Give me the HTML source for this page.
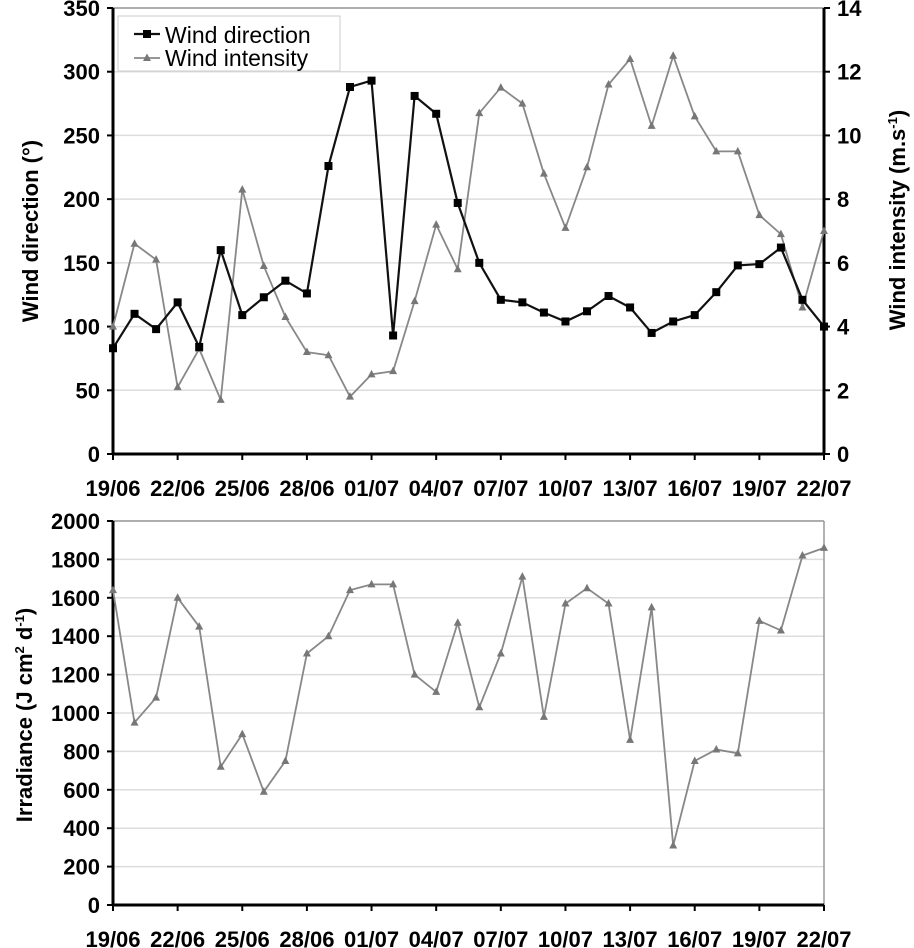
<!DOCTYPE html>
<html><head><meta charset="utf-8"><style>
html,body{margin:0;padding:0;background:#fff;width:914px;height:948px;overflow:hidden}
svg text{font-family:"Liberation Sans",Arial,sans-serif;font-weight:bold;fill:#000}
</style></head><body>
<svg id="s" width="914" height="948" viewBox="0 0 914 948" xmlns="http://www.w3.org/2000/svg">
<text x="0" y="0" font-size="1"> </text>
</svg>
<script>
var s=document.getElementById('s');var h='';
var X0=113,X1=824,dx=(X1-X0)/33;
function X(i){return X0+i*dx;}
var T0=454,T1=8;
function Yd(v){return T0-(v/350)*(T0-T1);}
function Yi(v){return T0-(v/14)*(T0-T1);}
for(var v=50;v<=350;v+=50){h+='<line x1="'+X0+'" x2="'+X1+'" y1="'+Yd(v)+'" y2="'+Yd(v)+'" stroke="#ddd" stroke-width="1.5"/>';}
h+='<line x1="'+X0+'" x2="'+X1+'" y1="'+T1+'" y2="'+T1+'" stroke="#999" stroke-width="1.5"/>';
h+='<line x1="'+X0+'" x2="'+X0+'" y1="'+T1+'" y2="'+T0+'" stroke="#000" stroke-width="3"/>';
h+='<line x1="'+X1+'" x2="'+X1+'" y1="'+T1+'" y2="'+T0+'" stroke="#000" stroke-width="3"/>';
h+='<line x1="'+X0+'" x2="'+X1+'" y1="'+T0+'" y2="'+T0+'" stroke="#000" stroke-width="3"/>';
for(var v=0;v<=350;v+=50){var y=Yd(v);h+='<line x1="'+(X0-6)+'" x2="'+X0+'" y1="'+y+'" y2="'+y+'" stroke="#000" stroke-width="2"/><text x="'+(X0-13)+'" y="'+(y+8)+'" font-size="22" text-anchor="end">'+v+'</text>';}
for(var v=0;v<=14;v+=2){var y=Yi(v);h+='<line x1="'+X1+'" x2="'+(X1+6)+'" y1="'+y+'" y2="'+y+'" stroke="#000" stroke-width="2"/><text x="'+(X1+13)+'" y="'+(y+8)+'" font-size="22">'+v+'</text>';}
var labs=['19/06','22/06','25/06','28/06','01/07','04/07','07/07','10/07','13/07','16/07','19/07','22/07'];
function xt(base){for(var k=0;k<12;k++){var x=X(k*3);h+='<line x1="'+x+'" x2="'+x+'" y1="'+base+'" y2="'+(base+6)+'" stroke="#000" stroke-width="2"/><text x="'+x+'" y="'+(base+42)+'" font-size="22" text-anchor="middle">'+labs[k]+'</text>';}}
xt(T0);
var wd=[83,110,98,119,84,160,109,123,136,126,226,288,293,93,281,267,197,150,121,119,111,104,112,124,115,95,104,109,127,148,149,162,121,100];
var wi=[4,6.6,6.1,2.1,3.3,1.7,8.3,5.9,4.3,3.2,3.1,1.8,2.5,2.6,4.8,7.2,5.8,10.7,11.5,11,8.8,7.1,9,11.6,12.4,10.3,12.5,10.6,9.5,9.5,7.5,6.9,4.6,7];
function tri(x,y,c){return '<path d="M'+x+' '+(y-4.5)+'L'+(x+4)+' '+(y+3)+'L'+(x-4)+' '+(y+3)+'Z" fill="'+c+'"/>';}
var p='';for(var i=0;i<34;i++)p+=(i?'L':'M')+X(i).toFixed(1)+' '+Yi(wi[i]).toFixed(1);
h+='<path d="'+p+'" fill="none" stroke="#888" stroke-width="1.8"/>';
for(var i=0;i<34;i++)h+=tri(X(i),Yi(wi[i]),'#777');
p='';for(var i=0;i<34;i++)p+=(i?'L':'M')+X(i).toFixed(1)+' '+Yd(wd[i]).toFixed(1);
h+='<path d="'+p+'" fill="none" stroke="#111" stroke-width="2.2"/>';
for(var i=0;i<34;i++)h+='<rect x="'+(X(i)-4)+'" y="'+(Yd(wd[i])-4)+'" width="8" height="8" fill="#000"/>';
h+='<rect x="118" y="16" width="222" height="55" fill="#fff" stroke="#ccc"/>';
h+='<line x1="134" x2="160" y1="34" y2="34" stroke="#111" stroke-width="2.2"/><rect x="143" y="30" width="8" height="8" fill="#000"/>';
h+='<text x="165" y="43" font-size="23" style="font-weight:normal">Wind direction</text>';
h+='<line x1="134" x2="160" y1="58" y2="58" stroke="#888" stroke-width="1.8"/>'+tri(147,58,'#777');
h+='<text x="165" y="66" font-size="23" style="font-weight:normal">Wind intensity</text>';
h+='<text transform="translate(38,231) rotate(-90)" font-size="22" text-anchor="middle">Wind direction (°)</text>';
h+='<text transform="translate(905,220) rotate(-90)" font-size="22" text-anchor="middle">Wind intensity (m.s<tspan dy="-8" font-size="13">-1</tspan><tspan dy="8">)</tspan></text>';
var B0=905,B1=521;
function Yr(v){return B0-(v/2000)*(B0-B1);}
for(var v=200;v<=2000;v+=200){h+='<line x1="'+X0+'" x2="'+X1+'" y1="'+Yr(v)+'" y2="'+Yr(v)+'" stroke="#ddd" stroke-width="1.5"/>';}
h+='<line x1="'+X0+'" x2="'+X1+'" y1="'+B1+'" y2="'+B1+'" stroke="#999" stroke-width="1.5"/>';
h+='<line x1="'+X1+'" x2="'+X1+'" y1="'+B1+'" y2="'+B0+'" stroke="#999" stroke-width="1.5"/>';
h+='<line x1="'+X0+'" x2="'+X0+'" y1="'+B1+'" y2="'+B0+'" stroke="#000" stroke-width="3"/>';
h+='<line x1="'+X0+'" x2="'+X1+'" y1="'+B0+'" y2="'+B0+'" stroke="#000" stroke-width="3"/>';
for(var v=0;v<=2000;v+=200){var y=Yr(v);h+='<line x1="'+(X0-6)+'" x2="'+X0+'" y1="'+y+'" y2="'+y+'" stroke="#000" stroke-width="2"/><text x="'+(X0-13)+'" y="'+(y+8)+'" font-size="22" text-anchor="end">'+v+'</text>';}
xt(B0);
var ir=[1640,950,1080,1600,1450,720,890,590,750,1310,1400,1640,1670,1670,1200,1110,1470,1030,1310,1710,980,1570,1650,1570,860,1550,310,750,810,790,1480,1430,1820,1860];
p='';for(var i=0;i<34;i++)p+=(i?'L':'M')+X(i).toFixed(1)+' '+Yr(ir[i]).toFixed(1);
h+='<path d="'+p+'" fill="none" stroke="#888" stroke-width="1.8"/>';
for(var i=0;i<34;i++)h+=tri(X(i),Yr(ir[i]),'#777');
h+='<text transform="translate(32,715) rotate(-90)" font-size="22" text-anchor="middle">Irradiance (J cm<tspan dy="-8" font-size="13">2</tspan><tspan dy="8"> d</tspan><tspan dy="-8" font-size="13">-1</tspan><tspan dy="8">)</tspan></text>';
s.innerHTML=h;
</script>
</body></html>
